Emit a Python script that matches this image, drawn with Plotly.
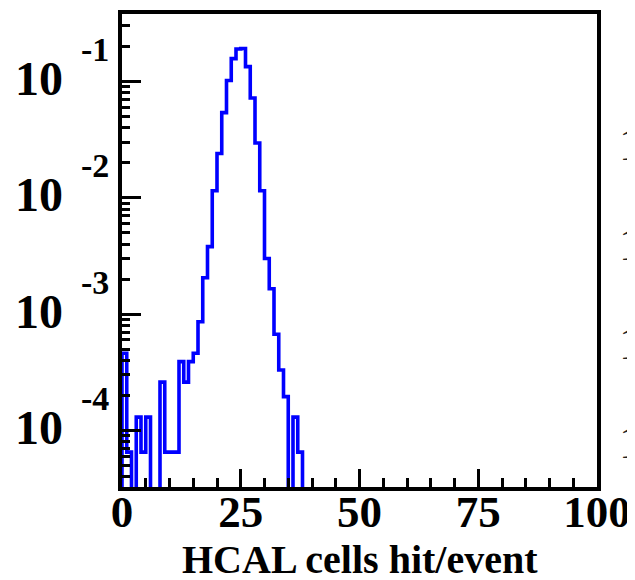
import plotly.graph_objects as go

# ---- data ----
bin_edges = list(range(0, 101))          # 100 bins of width 1, 0..100
counts_per_event = [
    4.6e-4, 6.5e-5, 0, 1.3e-4, 6.5e-5, 1.3e-4, 0, 0, 2.6e-4, 6.5e-5,
    6.5e-5, 6.5e-5, 3.9e-4, 2.6e-4, 3.9e-4, 4.6e-4, 8.6e-4, 2.05e-3, 3.8e-3, 0.0115,
    0.024, 0.054, 0.102, 0.157, 0.190, 0.192, 0.134, 0.072, 0.0296, 0.0115,
    3.0e-3, 1.65e-3, 6.7e-4, 3.3e-4, 1.95e-4, 0, 1.3e-4, 6.5e-5, 0, 0,
] + [0] * 60

x_tick_vals = [0, 25, 50, 75, 100]
x_tick_text = ["0", "25", "50", "75", "100"]
y_decades = [-1, -2, -3, -4]
y_exp_text = ["-1", "-2", "-3", "-4"]
x_title = "HCAL cells hit/event"
side_labels = ["10", "10", "10", "10"]   # clipped labels of the neighbouring panel
side_label_ypx = [142, 242, 342, 442]

# ---- build step outline ----
FLOOR = 1e-8  # zero bins drop out of the log frame
vals = [v if v > 0 else FLOOR for v in counts_per_event]
xs = [bin_edges[0]] + bin_edges
ys = [FLOOR] + vals + [vals[-1]]

W, H = 635, 580
OFF = 8  # page body margin offset
ML, MT = 122 - OFF, 10 - OFF
PW, PH = 475, 477
MR = W - ML - PW
MB = H - MT - PH
SERIF = "Liberation Serif, Times New Roman, serif"

fig = go.Figure()
fig.add_trace(go.Scatter(
    x=xs, y=ys, mode="lines", line=dict(color="#0000ff", width=3.6, shape="hv"),
    showlegend=False, hoverinfo="skip"))

minor_y = [m * 10 ** d for d in [-5, -4, -3, -2, -1] for m in range(2, 10)]

fig.update_layout(
    width=W, height=H,
    margin=dict(l=ML, r=MR, t=MT, b=MB, pad=0),
    paper_bgcolor="white", plot_bgcolor="white",
    xaxis=dict(
        range=[0, 100], showgrid=False, zeroline=False,
        showline=True, linecolor="black", linewidth=4, mirror=True,
        ticks="inside", tickvals=x_tick_vals, ticktext=x_tick_text,
        ticklen=18, tickwidth=3, tickcolor="black",
        minor=dict(ticks="inside", dtick=5, tick0=0, ticklen=9, tickwidth=3, tickcolor="black"),
        tickfont=dict(family=SERIF, size=45, color="black", weight="bold"),
        ticklabelstandoff=-18,
    ),
    yaxis=dict(
        type="log", range=[-4.487, -0.42], showgrid=False, zeroline=False,
        showline=True, linecolor="black", linewidth=4, mirror=True,
        ticks="inside", tickvals=[10 ** d for d in y_decades],
        ticklen=19, tickwidth=3, tickcolor="black", showticklabels=False,
        minor=dict(ticks="inside", tickvals=minor_y, ticklen=8, tickwidth=3, tickcolor="black"),
    ),
)

annotations = []
for d, et in zip(y_decades, y_exp_text):
    annotations.append(dict(
        x=0, xref="paper", y=d, yref="y", text="10", showarrow=False,
        xanchor="right", yanchor="middle", xshift=-57, yshift=3,
        font=dict(family=SERIF, size=48, color="black", weight="bold")))
    annotations.append(dict(
        x=0, xref="paper", y=d, yref="y", text=et, showarrow=False,
        xanchor="left", yanchor="middle", xshift=-43, yshift=32,
        font=dict(family=SERIF, size=34, color="black", weight="bold")))

annotations.append(dict(
    x=0.5, xref="paper", y=-(585 - OFF - (MT + PH)) / PH, yref="paper", text=x_title,
    showarrow=False, xanchor="center", yanchor="bottom",
    font=dict(family=SERIF, size=40, color="black", weight="bold")))

for t, ypx in zip(side_labels, side_label_ypx):
    annotations.append(dict(
        x=(617 - OFF - ML) / PW, xref="paper", y=(MT + PH - (ypx - OFF)) / PH, yref="paper",
        text=t, showarrow=False, xanchor="left", yanchor="middle",
        font=dict(family=SERIF, size=46, color="#222222")))

fig.update_layout(annotations=annotations)
fig.write_html("out.html")
